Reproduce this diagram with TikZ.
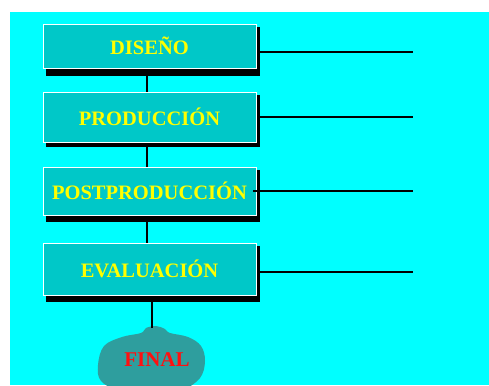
\documentclass[tikz,border=0pt]{standalone}
\usepackage{fontspec}
\setmainfont{Liberation Serif}
\usetikzlibrary{calc,backgrounds}
\definecolor{bgcyan}{HTML}{00FFFF}
\definecolor{boxteal}{HTML}{00C8C8}
\definecolor{cloudteal}{HTML}{2E9E9E}
\definecolor{txtyellow}{HTML}{FFFF00}
\definecolor{txtred}{HTML}{FF1010}
\tikzset{
  stage/.style={rectangle, fill=boxteal, draw=white, line width=0.8pt,
    minimum width=213pt, inner sep=0pt, text=txtyellow,
    font=\fontsize{20.5}{22}\selectfont\bfseries},
  conn/.style={draw=black, line width=2pt},
  shadowfill/.style={fill=black}
}
\begin{document}
\begin{tikzpicture}[x=1pt,y=-1pt]
\useasboundingbox (0,0) rectangle (489,385);
\begin{scope}
\clip (0,0) rectangle (489,385);
\fill[white] (0,0) rectangle (489,385);
\fill[bgcyan] (10,12) rectangle (489,385);

% shadows
\fill[shadowfill] (46,27) rectangle (260,76);
\fill[shadowfill] (46,95) rectangle (260,147);
\fill[shadowfill] (46,170) rectangle (260,222);
\fill[shadowfill] (46,246) rectangle (260,302);

\node[stage, minimum height=44pt] (d) at (149.5,46) {DISEÑO};
\node[stage, minimum height=50pt] (p) at (149.5,117) {PRODUCCIÓN};
\node[stage, minimum height=48pt] (q) at (149.5,191) {POSTPRODUCCIÓN};
\node[stage, minimum height=52pt] (v) at (149.5,269) {EVALUACIÓN};

% cloud
\fill[cloudteal] plot[smooth cycle, tension=0.6] coordinates {
  (98,365) (104,346) (122,337) (141,333) (146,328) (156,326) (165,329)
  (170,333) (188,337) (201,346) (205,361) (200,378) (182,390)
  (152,395) (120,391) (101,381)};
\node[font=\fontsize{21}{22}\selectfont\bfseries, text=txtred, inner sep=0pt] (f) at (157,360) {FINAL};

% right lines
\coordinate (e1) at (413,52);
\coordinate (e2) at (413,117);
\coordinate (e3) at (413,191);
\coordinate (e4) at (413,272);
\draw[conn] ([xshift=4pt]d.east |- e1) -- (e1);
\draw[conn] ([xshift=4pt]p.east |- e2) -- (e2);
\draw[conn] ([xshift=-3pt]q.east |- e3) -- (e3);
\draw[conn] ([xshift=4pt]v.east |- e4) -- (e4);

% vertical connectors
\draw[conn] ([xshift=-2.5pt,yshift=-8pt]d.south) -- ([xshift=-2.5pt]p.north);
\draw[conn] ([xshift=-2.5pt,yshift=-5pt]p.south) -- ([xshift=-2.5pt]q.north);
\draw[conn] ([xshift=-2.5pt,yshift=-7pt]q.south) -- ([xshift=-2.5pt]v.north);
\draw[conn] ([xshift=2.5pt,yshift=-7pt]v.south) -- (152,328);
\end{scope}
\end{tikzpicture}
\end{document}
